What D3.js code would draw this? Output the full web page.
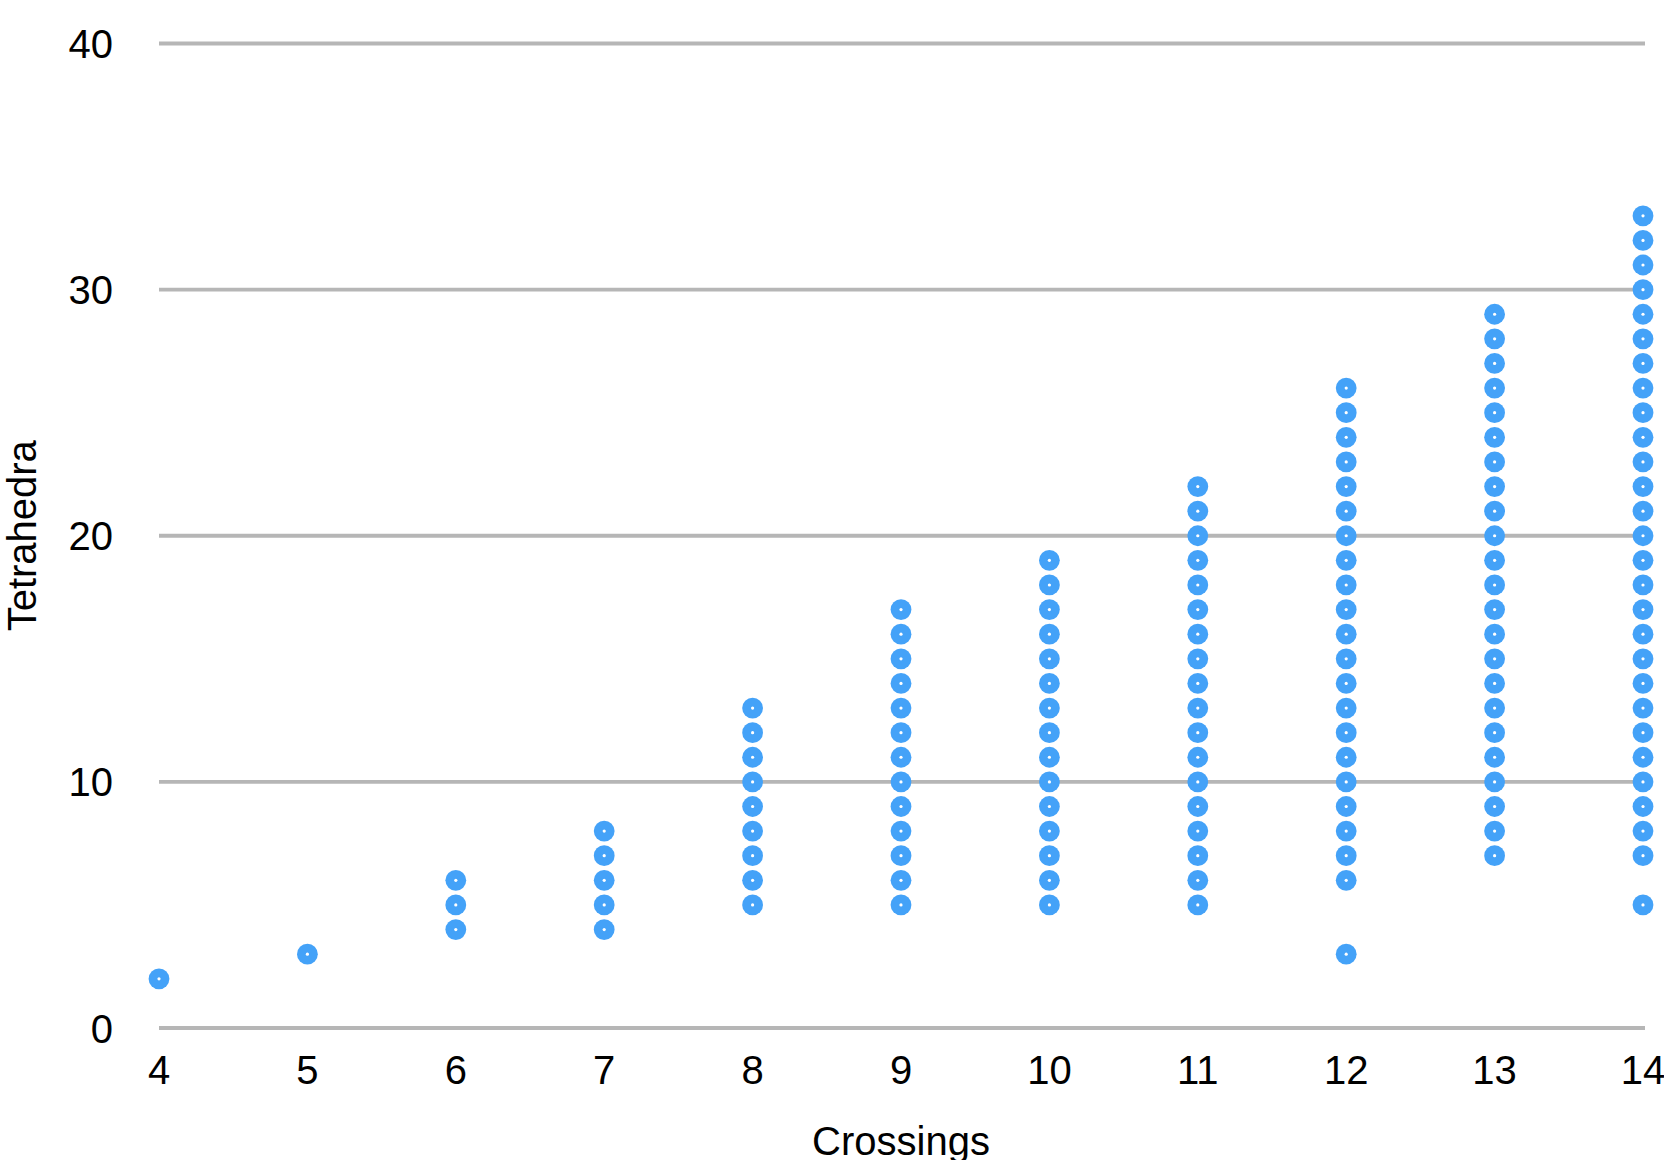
<!DOCTYPE html>
<html>
<head>
<meta charset="utf-8">
<script src="https://cdn.jsdelivr.net/npm/d3@7"></script>
<style>
  html, body { margin: 0; padding: 0; background: #fff; }
  svg text { font-family: "Liberation Sans", Arial, Helvetica, sans-serif; fill: #000; }
</style>
</head>
<body>
<svg id="chart" width="1664" height="1160"></svg>
<script>
// Categories (crossing numbers)
const crossings = [4, 5, 6, 7, 8, 9, 10, 11, 12, 13, 14];
// Tetrahedra values observed for each crossing number
const tetra4  = [2];
const tetra5  = [3];
const tetra6  = [4, 5, 6];
const tetra7  = [4, 5, 6, 7, 8];
const tetra8  = [5, 6, 7, 8, 9, 10, 11, 12, 13];
const tetra9  = [5, 6, 7, 8, 9, 10, 11, 12, 13, 14, 15, 16, 17];
const tetra10 = [5, 6, 7, 8, 9, 10, 11, 12, 13, 14, 15, 16, 17, 18, 19];
const tetra11 = [5, 6, 7, 8, 9, 10, 11, 12, 13, 14, 15, 16, 17, 18, 19, 20, 21, 22];
const tetra12 = [3, 6, 7, 8, 9, 10, 11, 12, 13, 14, 15, 16, 17, 18, 19, 20, 21, 22, 23, 24, 25, 26];
const tetra13 = [7, 8, 9, 10, 11, 12, 13, 14, 15, 16, 17, 18, 19, 20, 21, 22, 23, 24, 25, 26, 27, 28, 29];
const tetra14 = [5, 7, 8, 9, 10, 11, 12, 13, 14, 15, 16, 17, 18, 19, 20, 21, 22, 23, 24, 25, 26, 27, 28, 29, 30, 31, 32, 33];
const tetraByCrossing = [tetra4, tetra5, tetra6, tetra7, tetra8, tetra9, tetra10, tetra11, tetra12, tetra13, tetra14];
// Tick labels
const yTicks = [0, 10, 20, 30, 40];
const xTicks = [4, 5, 6, 7, 8, 9, 10, 11, 12, 13, 14];
const xTitle = "Crossings";
const yTitle = "Tetrahedra";

const points = [];
crossings.forEach((c, i) => tetraByCrossing[i].forEach(t => points.push({ c, t })));

const svg = d3.select("#chart");
const x = d3.scaleLinear().domain([4, 14]).range([159, 1643]);
const y = d3.scaleLinear().domain([0, 40]).range([1028, 43.5]);

// Gridlines
svg.append("g").selectAll("line").data(yTicks).join("line")
  .attr("x1", 159).attr("x2", 1645)
  .attr("y1", d => y(d)).attr("y2", d => y(d))
  .attr("stroke", "#b6b6b6").attr("stroke-width", 3.8);

// Y tick labels
svg.append("g").selectAll("text").data(yTicks).join("text")
  .attr("x", 113).attr("y", d => y(d) + 14.5)
  .attr("text-anchor", "end")
  .attr("font-size", 40)
  .text(d => d);

// X tick labels
svg.append("g").selectAll("text").data(xTicks).join("text")
  .attr("x", d => x(d)).attr("y", 1084)
  .attr("text-anchor", "middle")
  .attr("font-size", 40)
  .text(d => d);

// Axis titles
svg.append("text")
  .attr("x", (x.range()[0] + x.range()[1]) / 2).attr("y", 1155)
  .attr("text-anchor", "middle").attr("font-size", 40)
  .text(xTitle);
svg.append("text")
  .attr("transform", `translate(36, ${(y.range()[0] + y.range()[1]) / 2}) rotate(-90)`)
  .attr("text-anchor", "middle").attr("font-size", 40)
  .text(yTitle);

// Points
const g = svg.append("g");
g.selectAll("circle.outer").data(points).join("circle")
  .attr("class", "outer")
  .attr("cx", d => x(d.c)).attr("cy", d => y(d.t))
  .attr("r", 10.4).attr("fill", "#44a2f8");
g.selectAll("circle.inner").data(points).join("circle")
  .attr("class", "inner")
  .attr("cx", d => x(d.c)).attr("cy", d => y(d.t))
  .attr("r", 1.6).attr("fill", "#ffffff");
</script>
</body>
</html>
